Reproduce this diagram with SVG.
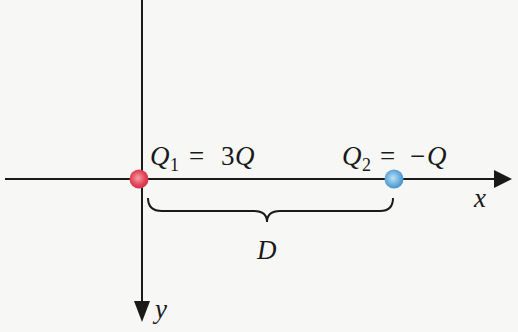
<svg xmlns="http://www.w3.org/2000/svg" width="518" height="332" viewBox="0 0 518 332">
<style>
.ax{stroke:#1a1a1a;stroke-width:2;fill:none}
.t{font-family:'Liberation Serif','DejaVu Serif',serif;font-size:27px;fill:#1a1a1a}
.i{font-style:italic}
.s{font-size:18px}
</style>
<defs>
<radialGradient id="gr" cx="0.45" cy="0.45" r="0.6"><stop offset="0" stop-color="#f6a0a8"/><stop offset="0.6" stop-color="#e4485a"/><stop offset="1" stop-color="#d02a40"/></radialGradient>
<radialGradient id="gb" cx="0.45" cy="0.45" r="0.6"><stop offset="0" stop-color="#bfe0f6"/><stop offset="0.6" stop-color="#6aaedc"/><stop offset="1" stop-color="#3f8cc8"/></radialGradient>
</defs>
<rect width="518" height="332" fill="#f7f7f5"/>
<g id="connectors">
<line class="ax" x1="5" y1="179" x2="496" y2="179"/>
<polygon points="494,170 512,179 494,188" fill="#1a1a1a"/>
<line class="ax" x1="142" y1="0" x2="142" y2="304"/>
<polygon points="134,301 142,322 150,301" fill="#1a1a1a"/>
<path class="ax" stroke-width="1.6" d="M148,198 Q148,211 162,211 L254,211 Q267,211 267,222 Q267,211 280,211 L380,211 Q393,211 393,198"/>
</g>
<g id="q1">
<circle cx="139" cy="179" r="9.5" fill="url(#gr)"/>
<text class="t" y="165"><tspan class="i" x="150">Q</tspan><tspan class="s" x="170" y="171">1</tspan><tspan x="189" y="165">=</tspan><tspan x="221">3</tspan><tspan class="i" x="235">Q</tspan></text>
</g>
<g id="q2">
<circle cx="394" cy="179" r="9.5" fill="url(#gb)"/>
<text class="t" y="165"><tspan class="i" x="342">Q</tspan><tspan class="s" x="362" y="171">2</tspan><tspan x="380" y="165">=</tspan><tspan x="410">−</tspan><tspan class="i" x="427">Q</tspan></text>
</g>
<g id="labels">
<text class="t i" x="257" y="259">D</text>
<text class="t i" x="474" y="207">x</text>
<text class="t i" x="155" y="318">y</text>
</g>
</svg>
